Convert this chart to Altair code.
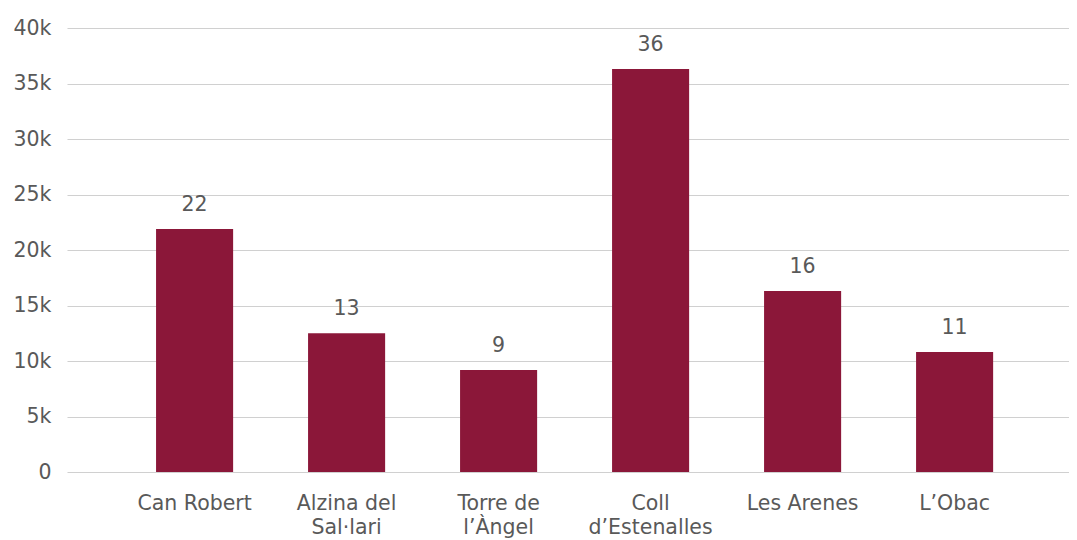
import altair as alt
import pandas as pd

categories = ["Can Robert", "Alzina del\nSal·lari", "Torre de\nl’Àngel", "Coll\nd’Estenalles", "Les Arenes", "L’Obac"]
values = [21900, 12500, 9200, 36300, 16300, 10800]
y_ticks = [0, 5000, 10000, 15000, 20000, 25000, 30000, 35000, 40000]

df = pd.DataFrame({"cat": categories, "value": values})

FONT = "DejaVu Sans"
GREY = "#595959"
BAR = "#8B1739"

base = alt.Chart(df).encode(
    x=alt.X("cat:N", sort=categories, title=None,
            scale=alt.Scale(paddingInner=0.493, paddingOuter=0.5425, align=0.54),
            axis=alt.Axis(labelAngle=0, labelExpr="split(datum.label, '\\n')",
                          labelFont=FONT, labelFontSize=20.5, labelColor=GREY,
                          labelPadding=21, labelLineHeight=24, ticks=False,
                          domain=False, grid=False)),
    y=alt.Y("value:Q", title=None,
            scale=alt.Scale(domain=[0, 40000], nice=False),
            axis=alt.Axis(values=y_ticks,
                          labelExpr="datum.value == 0 ? '0' : (datum.value / 1000) + 'k'",
                          labelFont=FONT, labelFontSize=20.5, labelColor=GREY,
                          labelPadding=16, ticks=False, domain=False,
                          gridColor="#D0D0D0", gridWidth=1.2)),
)

bars = base.mark_bar(color=BAR)
labels = base.transform_calculate(lbl="round(datum.value / 1000)").mark_text(
    baseline="bottom", dy=-14, font=FONT, fontSize=20.5, color=GREY
).encode(text="lbl:N")

chart = (bars + labels).properties(
    width=1002, height=444,
    background="white",
    autosize=alt.AutoSizeParams(type="none"),
    padding={"left": 59, "top": 20, "right": 0, "bottom": 70},
).configure_view(stroke=None)

chart.save("out.html", embed_options={"renderer": "svg", "actions": False})
